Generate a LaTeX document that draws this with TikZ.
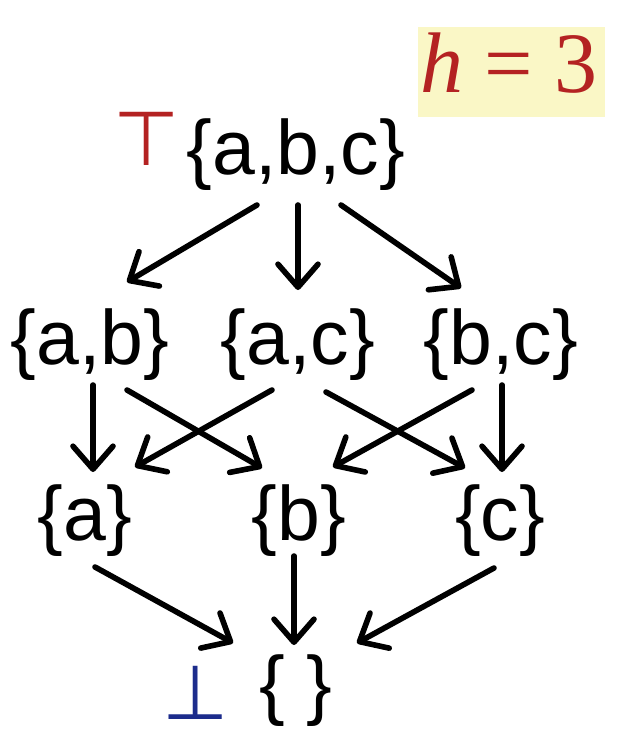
\documentclass[tikz,border=0pt]{standalone}
\usepackage{fontspec}
\setmainfont{Liberation Sans}
\newfontfamily\symfam{DejaVu Sans}
\newfontfamily\serfam{Liberation Serif}
\usetikzlibrary{arrows.meta}
\definecolor{topred}{HTML}{B42222}
\definecolor{botblue}{HTML}{1C2C8C}
\definecolor{boxyellow}{HTML}{FAF7C6}
\tikzset{
  setnode/.style={inner sep=0pt, font=\fontsize{77}{80}\selectfont},
  symnode/.style={inner sep=0pt, font=\fontsize{76}{80}\selectfont\symfam},
  arr/.style={line width=5.6pt, line cap=round, -{Straight Barb[length=23pt,width=40pt,line cap=round,line join=round]}},
}
\begin{document}
\begin{tikzpicture}[x=1pt,y=-1pt]
\useasboundingbox (0,0) rectangle (630,742);
% h = 3 label
\node[fill=boxyellow, minimum width=187pt, minimum height=90pt, inner sep=0pt] (hbox) at (511.5,72) {};
\node[anchor=base, inner sep=0pt, text=topred, font=\fontsize{86}{90}\selectfont\serfam] (hlab) at (509,92) {\itshape h\upshape{} = 3};
% nodes
\node[symnode, text=topred] (topsym) at (147,139) {⊤};
\node[setnode] (abc) at (296,155) {\{a,b,c\}};
\node[setnode] (ab) at (90,345) {\{a,b\}};
\node[setnode] (ac) at (298,345) {\{a,c\}};
\node[setnode] (bc) at (501,345) {\{b,c\}};
\node[setnode] (a) at (85,521) {\{a\}};
\node[setnode] (b) at (299,521) {\{b\}};
\node[setnode] (c) at (500,521) {\{c\}};
\node[setnode] (e) at (296,691) {\{ \}};
\node[symnode, text=botblue] (botsym) at (196,693) {⊥};
% arrows
\draw[arr] ([shift={(-39,50)}]abc.center) -- ([shift={(37,-63)}]ab.center);
\draw[arr] ([shift={(2,50)}]abc.center) -- ([shift={(0,-55)}]ac.center);
\draw[arr] ([shift={(45,50)}]abc.center) -- ([shift={(-40,-57)}]bc.center);
\draw[arr] ([shift={(3,40)}]ab.center) -- ([shift={(8,-49)}]a.center);
\draw[arr] ([shift={(37,45)}]ab.center) -- ([shift={(-37,-53)}]b.center);
\draw[arr] ([shift={(-26,45)}]ac.center) -- ([shift={(50,-54)}]a.center);
\draw[arr] ([shift={(28,47)}]ac.center) -- ([shift={(-35,-53)}]c.center);
\draw[arr] ([shift={(-29,45)}]bc.center) -- ([shift={(34,-54)}]b.center);
\draw[arr] ([shift={(1,40)}]bc.center) -- ([shift={(2,-49)}]c.center);
\draw[arr] ([shift={(10,46)}]a.center) -- ([shift={(-63,-48)}]e.center);
\draw[arr] ([shift={(-5,35)}]b.center) -- ([shift={(-2,-46)}]e.center);
\draw[arr] ([shift={(-6,47)}]c.center) -- ([shift={(61,-48)}]e.center);
\end{tikzpicture}
\end{document}
